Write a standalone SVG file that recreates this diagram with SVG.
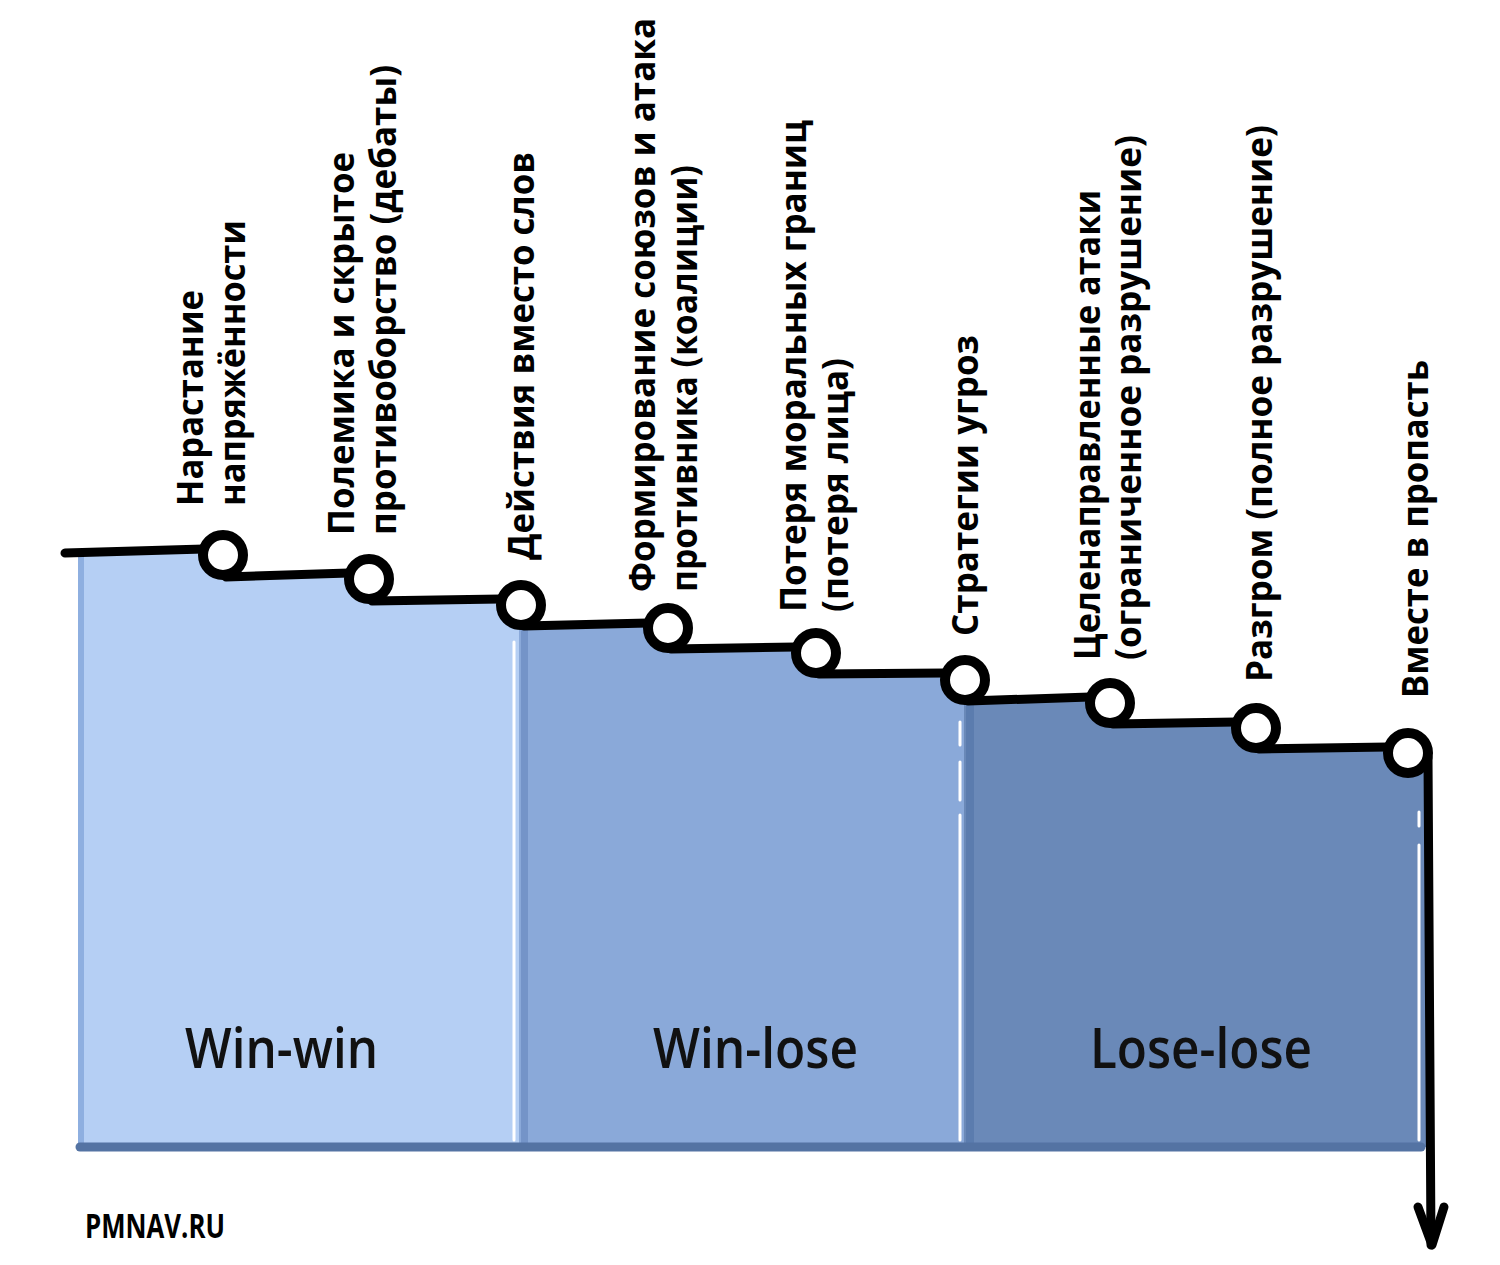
<svg xmlns="http://www.w3.org/2000/svg" width="1500" height="1265" viewBox="0 0 1500 1265">
<style>
.lbl{font-family:"Open Sans","Noto Sans","DejaVu Sans",sans-serif;font-weight:700;font-size:35px;fill:#000}
.zone{font-family:"Open Sans","Noto Sans","DejaVu Sans",sans-serif;font-weight:600;font-size:56px;fill:#111}
.ln{fill:none;stroke:#000;stroke-width:9;stroke-linecap:round;stroke-linejoin:round}
.node{fill:#fff;stroke:#000;stroke-width:10}
.hl{stroke:#fff;stroke-width:3;stroke-linecap:round}
</style>
<rect width="1500" height="1265" fill="#fff"/>
<g id="zones">
<g id="zone-winwin">
<path d="M78,553 L204,549 L223,555 L226,577 L349,573 L369,579 L372,601 L501,599 L521,605 L521,1147 L78,1147 Z" fill="#b5cff4"/>
<rect x="78" y="553" width="6" height="594" fill="#8eafe0"/>
<line class="hl" x1="514" y1="642" x2="514" y2="1140"/>
<text class="zone" x="185" y="1068" textLength="193" lengthAdjust="spacingAndGlyphs">Win-win</text>
</g>
<g id="zone-winlose">
<path d="M519,605 L524,626 L648,623 L668,628 L671,649 L796,647 L816,653 L819,674 L945,673 L966,680 L966,1147 L519,1147 Z" fill="#8aa9d9"/>
<rect x="521" y="624" width="7" height="523" fill="#7494c8"/>
<line class="hl" x1="960" y1="722" x2="960" y2="745"/>
<line class="hl" x1="960" y1="762" x2="960" y2="800"/>
<line class="hl" x1="960" y1="815" x2="960" y2="1140"/>
<text class="zone" x="653" y="1068" textLength="205" lengthAdjust="spacingAndGlyphs">Win-lose</text>
</g>
<g id="zone-loselose">
<path d="M964,680 L968,701 L1090,697 L1110,703 L1113,724 L1236,722 L1256,728 L1259,749 L1388,747 L1408,753 L1428,755 L1428,1147 L964,1147 Z" fill="#6a89b8"/>
<rect x="966" y="698" width="8" height="449" fill="#5b7cae"/>
<line class="hl" x1="1419" y1="812" x2="1419" y2="826"/>
<line class="hl" x1="1419" y1="845" x2="1419" y2="1140"/>
<text class="zone" x="1090" y="1068" textLength="222" lengthAdjust="spacingAndGlyphs">Lose-lose</text>
</g>
<line x1="80" y1="1147" x2="1421" y2="1147" stroke="#5473a3" stroke-width="9" stroke-linecap="round"/>
</g>
<g id="connectors">
<path class="ln" d="M65,553 L204,549"/>
<path class="ln" d="M226,577 L349,573"/>
<path class="ln" d="M372,601 L501,599"/>
<path class="ln" d="M524,626 L648,623"/>
<path class="ln" d="M671,649 L796,647"/>
<path class="ln" d="M819,674 L945,673"/>
<path class="ln" d="M968,701 L1090,697"/>
<path class="ln" d="M1113,724 L1236,722"/>
<path class="ln" d="M1259,749 L1388,747"/>
<path class="ln" d="M1428,757 L1431,1245"/>
<path class="ln" d="M1418,1207 L1432,1245 L1444,1207"/>
</g>
<g id="n1"><circle class="node" cx="223" cy="555" r="20"/>
<text class="lbl" transform="translate(203,506) rotate(-90)" textLength="216" lengthAdjust="spacingAndGlyphs">Нарастание</text>
<text class="lbl" transform="translate(245,506) rotate(-90)" textLength="286" lengthAdjust="spacingAndGlyphs">напряжённости</text></g>
<g id="n2"><circle class="node" cx="369" cy="579" r="20"/>
<text class="lbl" transform="translate(354,535) rotate(-90)" textLength="383" lengthAdjust="spacingAndGlyphs">Полемика и скрытое</text>
<text class="lbl" transform="translate(396,535) rotate(-90)" textLength="470" lengthAdjust="spacingAndGlyphs">противоборство (дебаты)</text></g>
<g id="n3"><circle class="node" cx="521" cy="605" r="20"/>
<text class="lbl" transform="translate(534,560) rotate(-90)" textLength="408" lengthAdjust="spacingAndGlyphs">Действия вместо слов</text></g>
<g id="n4"><circle class="node" cx="668" cy="628" r="20"/>
<text class="lbl" transform="translate(655,592) rotate(-90)" textLength="574" lengthAdjust="spacingAndGlyphs">Формирование союзов и атака</text>
<text class="lbl" transform="translate(697,592) rotate(-90)" textLength="427" lengthAdjust="spacingAndGlyphs">противника (коалиции)</text></g>
<g id="n5"><circle class="node" cx="816" cy="653" r="20"/>
<text class="lbl" transform="translate(806,612) rotate(-90)" textLength="492" lengthAdjust="spacingAndGlyphs">Потеря моральных границ</text>
<text class="lbl" transform="translate(848,612) rotate(-90)" textLength="254" lengthAdjust="spacingAndGlyphs">(потеря лица)</text></g>
<g id="n6"><circle class="node" cx="965" cy="680" r="20"/>
<text class="lbl" transform="translate(978,636) rotate(-90)" textLength="301" lengthAdjust="spacingAndGlyphs">Стратегии угроз</text></g>
<g id="n7"><circle class="node" cx="1110" cy="703" r="20"/>
<text class="lbl" transform="translate(1100,660) rotate(-90)" textLength="470" lengthAdjust="spacingAndGlyphs">Целенаправленные атаки</text>
<text class="lbl" transform="translate(1141,660) rotate(-90)" textLength="525" lengthAdjust="spacingAndGlyphs">(ограниченное разрушение)</text></g>
<g id="n8"><circle class="node" cx="1256" cy="728" r="20"/>
<text class="lbl" transform="translate(1272,682) rotate(-90)" textLength="557" lengthAdjust="spacingAndGlyphs">Разгром (полное разрушение)</text></g>
<g id="n9"><circle class="node" cx="1408" cy="753" r="20"/>
<text class="lbl" transform="translate(1428,698) rotate(-90)" textLength="338" lengthAdjust="spacingAndGlyphs">Вместе в пропасть</text></g>
<text id="credit" x="85" y="1238" font-family="'Liberation Sans Narrow','Open Sans',sans-serif" font-weight="700" font-size="34" textLength="140" lengthAdjust="spacingAndGlyphs">PMNAV.RU</text>
</svg>
